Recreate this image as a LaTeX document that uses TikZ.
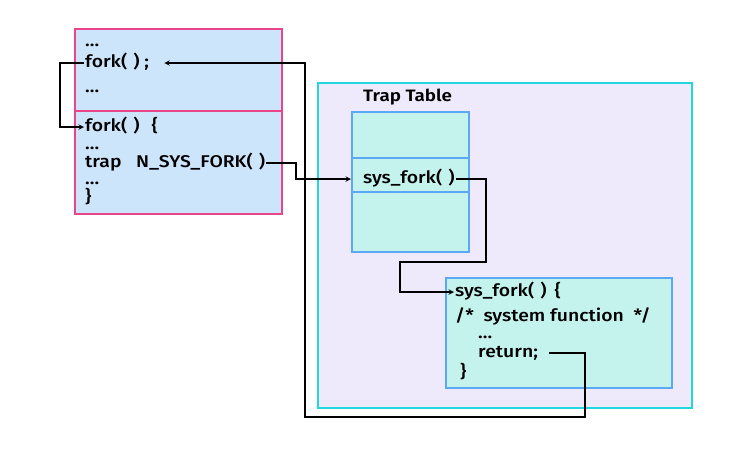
\documentclass[tikz,border=0pt]{standalone}
\usepackage{fontspec}
\setmainfont{Fira Sans}[UprightFont={* Medium},BoldFont={* SemiBold},FakeStretch=1.14]
\usetikzlibrary{positioning}
\definecolor{userline}{HTML}{E8458B}
\definecolor{userfill}{HTML}{CCE5FB}
\definecolor{kernline}{HTML}{22D6E0}
\definecolor{kernfill}{HTML}{EEEAFC}
\definecolor{tabline}{HTML}{5BA8F5}
\definecolor{tabfill}{HTML}{C4F3EE}
\newcommand{\noargs}{(\hspace{6pt})}
\tikzset{
  code/.style={anchor=west,inner sep=1pt,text height=12pt,text depth=4pt,font=\fontsize{17}{19}\selectfont},
  link/.style={line width=1.4pt,->,>=stealth},
  panel/.style={anchor=north west,minimum width=#1,inner sep=0pt}
}
\begin{document}
\begin{tikzpicture}[x=1pt,y=-1pt]
        \useasboundingbox (0,0) rectangle (732,451);
        % user program
        \node (user) [panel=207pt,minimum height=185pt,draw=userline,fill=userfill,line width=1.5pt] at (74,28) {};
        \draw[userline,line width=1.5pt] (74,111) -- (281,111);
        \node (u1) [code] at (84,42) {...};
        \node (call) [code] at (84,63) {fork\noargs\ ;};
        \node (u3) [code] at (84,88) {...};
        \node (fork) [code] at (84,127) {fork\noargs\hspace{12pt}\{};
        \node (u5) [code] at (84,145) {...};
        \node (trap) [code] at (84,163) {trap~~~N\_SYS\_FORK\noargs};
        \node (u7) [code] at (84,180) {...};
        \node (u8) [code] at (84,198) {\}};
        % kernel
        \node (kern) [panel=374pt,minimum height=325pt,draw=kernline,fill=kernfill,line width=1.6pt] at (317,82) {};
        \node (title) [code,font=\bfseries\fontsize{16.5}{19}\selectfont] at (362,97) {Trap Table};
        \node (t1) [panel=117pt,minimum height=46pt,draw=tabline,fill=tabfill,line width=1.5pt] at (351,111) {};
        \node (t2) [panel=117pt,minimum height=34pt,draw=tabline,fill=tabfill,line width=1.5pt] at (351,157) {};
        \node (t3) [panel=117pt,minimum height=60pt,draw=tabline,fill=tabfill,line width=1.5pt] at (351,191) {};
        \node (entry) [code] at (362,179) {sys\_fork\noargs};
        \node (func) [panel=226pt,minimum height=110pt,draw=tabline,fill=tabfill,line width=1.5pt] at (445,277) {};
        \node (f1) [code] at (454,292) {sys\_fork\noargs\hspace{8pt}\{};
        \node (f2) [code] at (454,317) {/*~~system function~~*/};
        \node (f3) [code] at (477,334) {...};
        \node (ret) [code] at (477,353) {return;};
        \node (f5) [code] at (459,373) {\}};
        % turning points
        \coordinate (lbus) at (60,0);
        \coordinate (tbus) at (296,0);
        \coordinate (ebus) at (486,262);
        \coordinate (fbus) at (400,262);
        \coordinate (rbus) at (585,417);
        \coordinate (lret) at (305,417);
        % connectors
        \draw[link] (call.west) -- (call.west -| lbus) |- (fork.west);
        \draw[link] (trap.east) -- (trap.east -| tbus) |- (entry.west -| t2.west);
        \draw[link] (entry.east) -- (entry.east -| ebus) -- (ebus) -- (fbus) |- (f1.west);
        \draw[link] ([xshift=10pt]ret.east) -- (ret.east -| rbus) -- (rbus) -- (lret) |- ([xshift=14pt]call.east);
\end{tikzpicture}
\end{document}
